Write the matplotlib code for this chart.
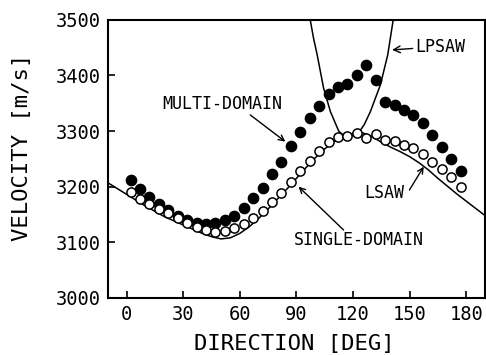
import matplotlib.pyplot as plt

# direction (deg) of measured points
direction = [2, 7, 12, 17, 22, 27, 32, 37, 42, 47, 52, 57, 62, 67, 72, 77, 82, 87,
             92, 97, 102, 107, 112, 117, 122, 127, 132, 137, 142, 147, 152, 157, 162, 167, 172, 177]

multi_domain = [3212, 3196, 3182, 3169, 3158, 3148, 3140, 3134, 3133, 3134, 3140, 3147,
                3161, 3179, 3198, 3222, 3245, 3273, 3298, 3323, 3345, 3366, 3379, 3384,
                3401, 3418, 3392, 3353, 3347, 3338, 3329, 3314, 3293, 3272, 3249, 3229]

single_domain = [3191, 3178, 3169, 3160, 3152, 3143, 3135, 3128, 3122, 3119, 3120, 3125,
                 3132, 3144, 3157, 3173, 3189, 3208, 3228, 3246, 3264, 3280, 3290, 3292,
                 3296, 3287, 3294, 3284, 3283, 3275, 3269, 3259, 3245, 3231, 3217, 3200]

# calculated curves
lsaw_dir = [-10, 0, 10, 20, 30, 40, 45, 50, 55, 60, 65, 70, 75, 80, 85, 90, 95, 100,
            105, 110, 115, 120, 125, 130, 135, 140, 145, 150, 155, 160, 165, 170, 175, 180, 185, 190]
lsaw_vel = [3207, 3186, 3165, 3146, 3131, 3116, 3110, 3106, 3108, 3116, 3128, 3143, 3160,
            3178, 3196, 3215, 3234, 3252, 3268, 3281, 3290, 3296, 3297, 3290, 3280, 3271,
            3263, 3254, 3243, 3230, 3215, 3201, 3187, 3174, 3161, 3148]

lpsaw_dir = [97.3, 99, 101, 104.4, 108, 112.4, 115, 117.5, 120, 123, 126, 129.2, 134.5, 138.4, 141.3]
lpsaw_vel = [3500, 3468, 3437, 3377, 3335, 3300, 3292, 3290, 3292, 3297, 3312, 3335, 3383, 3437, 3500]

plt.rcParams['font.family'] = 'DejaVu Sans Mono'

fig = plt.figure(figsize=(4.86, 3.55), dpi=100)
ax = fig.add_axes([0.222, 0.161, 0.776, 0.783])

ax.plot(lsaw_dir, lsaw_vel, color='black', lw=1.1)
ax.plot(lpsaw_dir, lpsaw_vel, color='black', lw=1.1)
ax.plot(direction, multi_domain, 'o', color='black', markersize=7.4, zorder=3)
ax.plot(direction, single_domain, 'o', markerfacecolor='white', markeredgecolor='black',
        markersize=6.6, markeredgewidth=1.1, zorder=4)

ax.set_xlim(-10, 190)
ax.set_ylim(3000, 3500)
ax.set_xticks([0, 30, 60, 90, 120, 150, 180])
ax.set_yticks([3000, 3100, 3200, 3300, 3400, 3500])
ax.tick_params(direction='in', length=5, width=1.2, labelsize=13.5, pad=5,
               top=False, right=False)
for s in ax.spines.values():
    s.set_linewidth(1.5)

ax.set_xlabel('DIRECTION [DEG]', fontsize=16)
ax.set_ylabel('VELOCITY [m/s]', fontsize=16)
ax.xaxis.set_label_coords(0.493, -0.13)
ax.yaxis.set_label_coords(-0.20, 0.541)

arrow = dict(arrowstyle='->', color='black', lw=1.0, shrinkA=0, shrinkB=0)
ax.annotate('MULTI-DOMAIN', xy=(84.1, 3281), xytext=(18.6, 3349),
            fontsize=12, va='center', ha='left')
ax.annotate('', xy=(84.1, 3281), xytext=(65.5, 3329), arrowprops=arrow)
ax.annotate('LPSAW', xy=(140.7, 3446), xytext=(153.1, 3452),
            fontsize=12, va='center', ha='left', arrowprops=arrow)
ax.annotate('LSAW', xy=(157.5, 3236), xytext=(125.7, 3188),
            fontsize=12, va='center', ha='left')
ax.annotate('', xy=(157.5, 3236), xytext=(149.9, 3194), arrowprops=arrow)
ax.annotate('SINGLE-DOMAIN', xy=(91.1, 3200), xytext=(88.5, 3104),
            fontsize=12, va='center', ha='left')
ax.annotate('', xy=(91.1, 3200), xytext=(115, 3122), arrowprops=arrow)

fig.savefig('out.png', dpi=100)
